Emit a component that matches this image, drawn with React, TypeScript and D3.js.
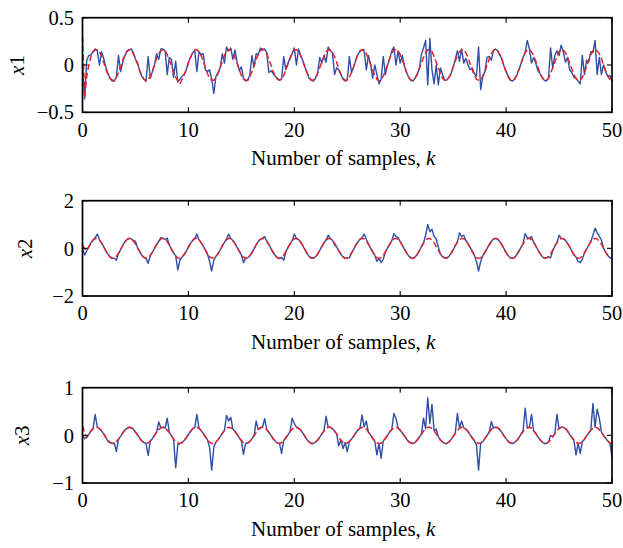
import * as d3 from 'd3';

// sample grid, k = 0 .. 50 in steps of 0.2
const K = d3.range(0, 251).map((i) => +(i * 0.2).toFixed(1));
const X_TICKS = [0, 10, 20, 30, 40, 50];

// x1: measured (blue) and estimated (red dashed)
const X1_MEAS = [
  0.02, -0.36, 0.05, 0.10, 0.11, 0.14, 0.17, 0.15, 0.00, 0.14,
  0.07, -0.02, -0.09, -0.14, -0.17, -0.17, -0.13, 0.10, -0.07, 0.03,
  0.10, 0.14, 0.16, 0.17, 0.13, 0.06, 0.02, -0.06, -0.12, -0.15,
  -0.17, 0.09, -0.14, -0.07, 0.00, 0.12, 0.06, 0.17, 0.17, 0.15,
  -0.10, 0.08, 0.06, -0.13, 0.04, -0.18, -0.15, -0.12, -0.10, -0.05,
  0.03, 0.08, 0.13, 0.15, -0.07, 0.14, 0.11, 0.12, -0.05, -0.07,
  -0.05, -0.15, -0.30, -0.12, -0.08, -0.03, 0.12, 0.02, 0.19, 0.15,
  0.18, 0.06, 0.16, 0.03, -0.06, -0.02, -0.14, -0.17, -0.16, -0.11,
  0.10, -0.02, 0.12, 0.11, 0.18, 0.16, 0.17, 0.13, -0.08, -0.06,
  -0.09, -0.12, -0.14, -0.16, -0.15, 0.09, -0.05, 0.02, 0.07, 0.12,
  0.18, 0.00, 0.17, 0.10, 0.05, -0.02, -0.08, -0.14, -0.16, -0.17,
  -0.14, -0.09, 0.08, 0.02, 0.10, 0.03, 0.19, 0.15, 0.13, -0.10,
  -0.03, -0.05, -0.10, -0.15, -0.17, -0.16, 0.09, -0.08, -0.02, 0.05,
  0.11, 0.14, 0.16, 0.15, -0.05, 0.10, 0.01, -0.14, 0.00, -0.10,
  -0.20, -0.15, 0.09, -0.10, 0.00, 0.06, 0.15, 0.19, 0.00, 0.15,
  0.02, 0.10, -0.01, -0.08, -0.13, -0.16, -0.17, -0.14, -0.10, -0.04,
  0.11, 0.18, 0.26, -0.21, 0.28, -0.05, -0.20, 0.00, -0.21, -0.03,
  -0.10, -0.16, -0.16, -0.13, -0.09, -0.02, 0.06, 0.15, 0.04, 0.17,
  0.02, 0.07, 0.00, -0.05, -0.03, -0.09, -0.12, 0.19, -0.26, -0.12,
  -0.07, 0.08, 0.09, 0.05, 0.15, 0.17, 0.15, 0.11, 0.06, -0.01,
  -0.07, -0.12, -0.16, -0.17, -0.15, -0.11, -0.05, 0.01, 0.08, 0.13,
  0.26, 0.17, 0.02, 0.08, 0.02, -0.06, -0.09, -0.13, -0.16, -0.17,
  -0.14, 0.18, -0.03, 0.10, 0.15, 0.10, 0.21, 0.14, 0.03, 0.08,
  -0.05, -0.08, -0.13, -0.14, -0.17, -0.20, 0.10, -0.10, 0.05, 0.03,
  0.14, 0.13, 0.26, -0.10, 0.08, -0.10, 0.00, -0.07, -0.12, -0.11,
  -0.17,
];
const X1_EST = [
  0.30, -0.35, -0.12, 0.00, 0.09, 0.14, 0.16, 0.16, 0.14, 0.09,
  0.03, -0.04, -0.10, -0.14, -0.16, -0.16, -0.13, -0.08, -0.02, 0.05,
  0.10, 0.15, 0.16, 0.16, 0.12, 0.07, 0.01, -0.06, -0.11, -0.15,
  -0.17, -0.15, -0.12, -0.06, 0.00, 0.07, 0.12, 0.15, 0.16, 0.15,
  0.11, 0.05, -0.01, -0.07, -0.13, -0.17, -0.20, -0.15, -0.10, -0.05,
  0.02, 0.08, 0.13, 0.16, 0.16, 0.14, 0.10, 0.04, -0.03, -0.09,
  -0.14, -0.16, -0.16, -0.14, -0.09, -0.03, 0.04, 0.10, 0.14, 0.16,
  0.16, 0.13, 0.08, 0.02, -0.05, -0.11, -0.15, -0.16, -0.16, -0.12,
  -0.07, -0.01, 0.06, 0.11, 0.15, 0.17, 0.15, 0.12, 0.06, 0.00,
  -0.07, -0.12, -0.15, -0.16, -0.15, -0.11, -0.05, 0.01, 0.07, 0.13,
  0.16, 0.16, 0.14, 0.10, 0.04, -0.02, -0.08, -0.13, -0.16, -0.16,
  -0.14, -0.09, -0.03, 0.03, 0.09, 0.14, 0.16, 0.16, 0.13, 0.09,
  0.03, -0.04, -0.10, -0.14, -0.16, -0.16, -0.13, -0.08, -0.02, 0.05,
  0.11, 0.15, 0.16, 0.16, 0.12, 0.07, 0.01, -0.06, -0.11, -0.15,
  -0.17, -0.15, -0.12, -0.06, 0.00, 0.07, 0.12, 0.16, 0.16, 0.15,
  0.11, 0.05, -0.01, -0.08, -0.13, -0.16, -0.16, -0.14, -0.10, -0.04,
  0.02, 0.08, 0.13, 0.16, 0.16, 0.14, 0.09, 0.03, -0.03, -0.09,
  -0.14, -0.16, -0.16, -0.13, -0.09, -0.02, 0.04, 0.10, 0.14, 0.16,
  0.16, 0.13, 0.08, 0.01, -0.05, -0.11, -0.15, -0.16, -0.16, -0.12,
  -0.07, 0.00, 0.06, 0.12, 0.15, 0.17, 0.15, 0.11, 0.06, -0.01,
  -0.07, -0.12, -0.16, -0.16, -0.15, -0.11, -0.05, 0.01, 0.08, 0.13,
  0.16, 0.16, 0.14, 0.10, 0.04, -0.02, -0.09, -0.13, -0.16, -0.16,
  -0.14, -0.09, -0.03, 0.03, 0.09, 0.14, 0.16, 0.16, 0.13, 0.08,
  0.02, -0.04, -0.10, -0.14, -0.16, -0.16, -0.13, -0.08, -0.01, 0.05,
  0.11, 0.15, 0.16, 0.15, 0.12, 0.07, 0.00, -0.06, -0.12, -0.15,
  -0.17,
];

// x2
const X2_MEAS = [
  0.00, -0.28, -0.10, 0.07, 0.23, 0.35, 0.45, 0.60, 0.36, 0.23,
  0.07, -0.10, -0.25, -0.36, -0.42, -0.41, -0.50, -0.21, -0.05, 0.12,
  0.27, 0.37, 0.42, 0.40, 0.32, 0.30, 0.02, -0.14, -0.29, -0.38,
  -0.42, -0.63, -0.30, -0.16, 0.00, 0.17, 0.30, 0.45, 0.42, 0.38,
  0.43, 0.14, -0.03, -0.19, -0.32, -0.90, -0.50, -0.37, -0.26, -0.12,
  0.05, 0.21, 0.33, 0.41, 0.60, 0.36, 0.24, 0.09, -0.07, -0.23,
  -0.55, -0.95, -0.50, -0.34, -0.22, -0.07, 0.10, 0.25, 0.40, 0.60,
  0.41, 0.33, 0.20, 0.04, -0.12, -0.27, -0.60, -0.42, -0.40, -0.31,
  -0.18, -0.02, 0.15, 0.29, 0.38, 0.42, 0.50, 0.30, 0.16, -0.01,
  -0.17, -0.30, -0.39, -0.42, -0.38, -0.50, -0.14, 0.03, 0.19, 0.32,
  0.60, 0.42, 0.37, 0.26, 0.11, -0.05, -0.21, -0.34, -0.41, -0.41,
  -0.36, -0.24, -0.09, 0.08, 0.23, 0.35, 0.55, 0.41, 0.34, 0.15,
  0.06, -0.10, -0.25, -0.36, -0.42, -0.40, -0.40, -0.20, -0.04, 0.13,
  0.27, 0.38, 0.45, 0.60, 0.38, 0.18, 0.02, -0.15, -0.29, -0.55,
  -0.42, -0.60, -0.45, -0.15, 0.01, 0.17, 0.31, 0.62, 0.50, 0.45,
  0.28, 0.13, -0.03, -0.19, -0.32, -0.40, -0.42, -0.37, -0.26, -0.11,
  0.06, 0.22, 0.55, 1.00, 0.70, 0.80, 0.50, 0.40, 0.05, -0.24,
  -0.35, -0.41, -0.41, -0.34, -0.22, -0.06, 0.11, 0.26, 0.65, 0.50,
  0.55, 0.33, 0.20, 0.04, -0.13, -0.28, -0.55, -0.95, -0.55, -0.31,
  -0.17, -0.01, 0.15, 0.29, 0.39, 0.42, 0.39, 0.29, 0.15, -0.01,
  -0.18, -0.31, -0.40, -0.42, -0.38, -0.27, -0.13, 0.04, 0.20, 0.62,
  0.45, 0.42, 0.50, 0.25, 0.10, -0.06, -0.22, -0.34, -0.41, -0.41,
  -0.35, -0.40, -0.10, 0.09, 0.24, 0.55, 0.41, 0.41, 0.34, 0.21,
  0.06, -0.11, -0.26, -0.37, -0.55, -0.60, -0.45, -0.19, -0.03, 0.13,
  0.28, 0.55, 0.85, 0.65, 0.50, 0.35, 0.01, -0.16, -0.30, -0.39,
  -0.45,
];
const X2_EST = [
  0.15, -0.02, -0.10, 0.07, 0.23, 0.35, 0.41, 0.41, 0.35, 0.23,
  0.07, -0.10, -0.25, -0.36, -0.42, -0.41, -0.33, -0.21, -0.05, 0.12,
  0.27, 0.37, 0.42, 0.40, 0.32, 0.18, 0.02, -0.14, -0.29, -0.38,
  -0.42, -0.39, -0.30, -0.16, 0.00, 0.17, 0.30, 0.39, 0.42, 0.38,
  0.28, 0.14, -0.03, -0.19, -0.32, -0.40, -0.42, -0.37, -0.26, -0.12,
  0.05, 0.21, 0.33, 0.41, 0.42, 0.36, 0.24, 0.09, -0.07, -0.23,
  -0.35, -0.41, -0.41, -0.34, -0.22, -0.07, 0.10, 0.25, 0.36, 0.42,
  0.41, 0.33, 0.20, 0.04, -0.12, -0.27, -0.37, -0.42, -0.40, -0.31,
  -0.18, -0.02, 0.15, 0.29, 0.38, 0.42, 0.39, 0.30, 0.16, -0.01,
  -0.17, -0.30, -0.39, -0.42, -0.38, -0.28, -0.14, 0.03, 0.19, 0.32,
  0.40, 0.42, 0.37, 0.26, 0.11, -0.05, -0.21, -0.34, -0.41, -0.41,
  -0.36, -0.24, -0.09, 0.08, 0.23, 0.35, 0.41, 0.41, 0.34, 0.22,
  0.06, -0.10, -0.25, -0.36, -0.42, -0.40, -0.33, -0.20, -0.04, 0.13,
  0.27, 0.38, 0.42, 0.40, 0.31, 0.18, 0.02, -0.15, -0.29, -0.39,
  -0.42, -0.39, -0.29, -0.15, 0.01, 0.17, 0.31, 0.39, 0.42, 0.38,
  0.28, 0.13, -0.03, -0.19, -0.32, -0.40, -0.42, -0.37, -0.26, -0.11,
  0.06, 0.22, 0.34, 0.41, 0.41, 0.35, 0.24, 0.08, -0.08, -0.24,
  -0.35, -0.41, -0.41, -0.34, -0.22, -0.06, 0.11, 0.26, 0.37, 0.42,
  0.40, 0.33, 0.20, 0.04, -0.13, -0.28, -0.38, -0.42, -0.40, -0.31,
  -0.17, -0.01, 0.15, 0.29, 0.39, 0.42, 0.39, 0.29, 0.15, -0.01,
  -0.18, -0.31, -0.40, -0.42, -0.38, -0.27, -0.13, 0.04, 0.20, 0.33,
  0.40, 0.42, 0.36, 0.25, 0.10, -0.06, -0.22, -0.34, -0.41, -0.41,
  -0.35, -0.23, -0.08, 0.09, 0.24, 0.36, 0.41, 0.41, 0.34, 0.21,
  0.06, -0.11, -0.26, -0.37, -0.42, -0.40, -0.32, -0.19, -0.03, 0.13,
  0.28, 0.38, 0.42, 0.39, 0.31, 0.17, 0.01, -0.16, -0.30, -0.39,
  -0.42,
];

// x3
const X3_MEAS = [
  0.00, -0.07, -0.04, 0.02, 0.09, 0.14, 0.44, 0.17, 0.14, 0.09,
  0.03, -0.04, -0.13, -0.15, -0.17, -0.16, -0.34, -0.08, -0.02, 0.05,
  0.11, 0.15, 0.17, 0.16, 0.13, 0.07, 0.01, -0.06, -0.12, -0.15,
  -0.17, -0.42, -0.12, -0.07, 0.00, 0.07, 0.28, 0.16, 0.17, 0.15,
  0.36, 0.06, -0.01, -0.08, -0.68, -0.20, -0.17, -0.15, -0.11, -0.05,
  0.02, 0.08, 0.14, 0.16, 0.44, 0.15, 0.10, 0.04, -0.03, -0.09,
  -0.25, -0.73, -0.25, -0.14, -0.09, -0.03, 0.04, 0.10, 0.42, 0.30,
  0.38, 0.13, 0.08, 0.02, -0.05, -0.11, -0.40, -0.17, -0.16, -0.13,
  -0.07, -0.01, 0.30, 0.12, 0.16, 0.17, 0.35, 0.12, 0.06, 0.00,
  -0.07, -0.12, -0.16, -0.17, -0.38, -0.11, -0.05, 0.01, 0.08, 0.36,
  0.25, 0.17, 0.15, 0.11, 0.05, -0.02, -0.09, -0.14, -0.17, -0.17,
  -0.14, -0.10, -0.04, 0.03, 0.09, 0.40, 0.17, 0.17, 0.14, 0.09,
  0.03, -0.22, -0.10, -0.28, -0.15, -0.34, -0.13, -0.08, -0.02, 0.05,
  0.11, 0.15, 0.43, 0.18, 0.30, 0.07, 0.01, -0.06, -0.12, -0.41,
  -0.17, -0.48, -0.12, -0.06, 0.00, 0.07, 0.12, 0.46, 0.36, 0.15,
  0.11, 0.05, -0.01, -0.08, -0.13, -0.16, -0.17, -0.15, -0.10, -0.04,
  0.02, 0.36, 0.14, 0.79, 0.25, 0.65, 0.10, 0.13, -0.03, -0.10,
  -0.14, -0.17, -0.17, -0.14, -0.09, -0.02, 0.04, 0.46, 0.15, 0.30,
  0.16, 0.13, 0.08, 0.01, -0.05, -0.11, -0.20, -0.73, -0.16, -0.13,
  -0.07, 0.00, 0.06, 0.29, 0.16, 0.17, 0.16, 0.12, 0.06, -0.01,
  -0.07, -0.13, -0.16, -0.17, -0.15, -0.11, -0.05, 0.02, 0.08, 0.57,
  0.16, 0.17, 0.44, 0.10, 0.04, -0.03, -0.09, -0.14, -0.17, -0.17,
  -0.14, 0.00, -0.03, 0.03, 0.44, 0.14, 0.17, 0.17, 0.14, 0.09,
  0.02, -0.04, -0.10, -0.41, -0.17, -0.38, -0.13, -0.08, -0.01, 0.05,
  0.11, 0.67, 0.17, 0.55, 0.36, 0.07, 0.00, -0.06, -0.12, -0.16,
  -0.45,
];
const X3_EST = [
  0.20, 0.05, -0.04, 0.03, 0.09, 0.14, 0.17, 0.17, 0.14, 0.09,
  0.03, -0.04, -0.10, -0.15, -0.17, -0.16, -0.13, -0.08, -0.02, 0.05,
  0.11, 0.15, 0.17, 0.16, 0.13, 0.07, 0.01, -0.06, -0.12, -0.15,
  -0.17, -0.16, -0.12, -0.07, 0.00, 0.07, 0.12, 0.16, 0.17, 0.15,
  0.11, 0.06, -0.01, -0.08, -0.13, -0.16, -0.17, -0.15, -0.11, -0.05,
  0.02, 0.08, 0.14, 0.16, 0.17, 0.15, 0.10, 0.04, -0.03, -0.09,
  -0.14, -0.17, -0.17, -0.14, -0.09, -0.03, 0.04, 0.10, 0.15, 0.17,
  0.16, 0.13, 0.08, 0.02, -0.05, -0.11, -0.15, -0.17, -0.16, -0.13,
  -0.07, -0.01, 0.06, 0.12, 0.16, 0.17, 0.16, 0.12, 0.06, 0.00,
  -0.07, -0.12, -0.16, -0.17, -0.15, -0.11, -0.05, 0.01, 0.08, 0.13,
  0.16, 0.17, 0.15, 0.11, 0.05, -0.02, -0.09, -0.14, -0.17, -0.17,
  -0.14, -0.10, -0.04, 0.03, 0.09, 0.14, 0.17, 0.17, 0.14, 0.09,
  0.03, -0.04, -0.10, -0.15, -0.17, -0.16, -0.13, -0.08, -0.02, 0.05,
  0.11, 0.15, 0.17, 0.16, 0.13, 0.07, 0.01, -0.06, -0.12, -0.16,
  -0.17, -0.16, -0.12, -0.06, 0.00, 0.07, 0.12, 0.16, 0.17, 0.15,
  0.11, 0.05, -0.01, -0.08, -0.13, -0.16, -0.17, -0.15, -0.10, -0.04,
  0.02, 0.09, 0.14, 0.17, 0.17, 0.14, 0.10, 0.03, -0.03, -0.10,
  -0.14, -0.17, -0.17, -0.14, -0.09, -0.02, 0.04, 0.10, 0.15, 0.17,
  0.16, 0.13, 0.08, 0.01, -0.05, -0.11, -0.15, -0.17, -0.16, -0.13,
  -0.07, 0.00, 0.06, 0.12, 0.16, 0.17, 0.16, 0.12, 0.06, -0.01,
  -0.07, -0.13, -0.16, -0.17, -0.15, -0.11, -0.05, 0.02, 0.08, 0.13,
  0.16, 0.17, 0.15, 0.10, 0.04, -0.03, -0.09, -0.14, -0.17, -0.17,
  -0.14, -0.10, -0.03, 0.03, 0.10, 0.14, 0.17, 0.17, 0.14, 0.09,
  0.02, -0.04, -0.10, -0.15, -0.17, -0.16, -0.13, -0.08, -0.01, 0.05,
  0.11, 0.15, 0.17, 0.16, 0.12, 0.07, 0.00, -0.06, -0.12, -0.16,
  -0.17,
];

const BLUE = '#2d4fa6';
const RED = '#e5202b';
const FONT = '"Liberation Serif", "Times New Roman", serif';

const LEFT = 82.5;
const RIGHT = 612;

const PANELS = [
  { idx: '1', meas: X1_MEAS, est: X1_EST, domain: [-0.5, 0.5], yTicks: [-0.5, 0, 0.5], top: 17.7, bottom: 112.3, labelX: 17 },
  { idx: '2', meas: X2_MEAS, est: X2_EST, domain: [-2, 2], yTicks: [-2, 0, 2], top: 200.7, bottom: 296, labelX: 25 },
  { idx: '3', meas: X3_MEAS, est: X3_EST, domain: [-1, 1], yTicks: [-1, 0, 1], top: 387.7, bottom: 483, labelX: 22 },
];

const fmt = (v: number) => (v < 0 ? '\u2212' : '') + Math.abs(v);

function Panel({ p }: { p: (typeof PANELS)[number] }) {
  const x = d3.scaleLinear().domain([0, 50]).range([LEFT, RIGHT]);
  const y = d3.scaleLinear().domain(p.domain).range([p.bottom, p.top]);
  const line = d3
    .line<number>()
    .x((_, i) => x(K[i]))
    .y((d) => y(d));
  const tl = 5;
  const midY = (p.top + p.bottom) / 2;

  return (
    <g>
      <path d={line(p.meas) ?? ''} fill="none" stroke={BLUE} strokeWidth={1.4} strokeLinejoin="round" />
      <path d={line(p.est) ?? ''} fill="none" stroke={RED} strokeWidth={1.5} strokeDasharray="6,3" />

      {/* box */}
      <rect x={LEFT} y={p.top} width={RIGHT - LEFT} height={p.bottom - p.top} fill="none" stroke="#000" strokeWidth={1.7} />

      {X_TICKS.map((t) => (
        <g key={t}>
          <line x1={x(t)} x2={x(t)} y1={p.bottom} y2={p.bottom - tl} stroke="#000" strokeWidth={1.1} />
          <line x1={x(t)} x2={x(t)} y1={p.top} y2={p.top + tl} stroke="#000" strokeWidth={1.1} />
          <text x={x(t)} y={p.bottom + 24.2} textAnchor="middle" fontFamily={FONT} fontSize={20.5}>
            {t}
          </text>
        </g>
      ))}
      {p.yTicks.map((t) => (
        <g key={t}>
          <line x1={LEFT} x2={LEFT + tl} y1={y(t)} y2={y(t)} stroke="#000" strokeWidth={1.1} />
          <line x1={RIGHT} x2={RIGHT - tl} y1={y(t)} y2={y(t)} stroke="#000" strokeWidth={1.1} />
          <text x={74} y={y(t)} dy="0.35em" textAnchor="end" fontFamily={FONT} fontSize={20.5}>
            {fmt(t)}
          </text>
        </g>
      ))}

      <text
        transform={`translate(${p.labelX},${midY}) rotate(-90)`}
        dy="0.35em"
        textAnchor="middle"
        fontFamily={FONT}
        fontSize={21}
      >
        <tspan fontStyle="italic">x</tspan>
        {p.idx}
      </text>
      <text x={(LEFT + RIGHT) / 2 - 4} y={p.bottom + 53} textAnchor="middle" fontFamily={FONT} fontSize={21}>
        Number of samples, <tspan fontStyle="italic">k</tspan>
      </text>
    </g>
  );
}

export default function App() {
  return (
    <svg
      width={623}
      height={548}
      viewBox="0 0 623 548"
      style={{ position: 'absolute', left: 0, top: 0, background: '#fff' }}
    >
      {PANELS.map((p) => (
        <Panel key={p.idx} p={p} />
      ))}
    </svg>
  );
}
